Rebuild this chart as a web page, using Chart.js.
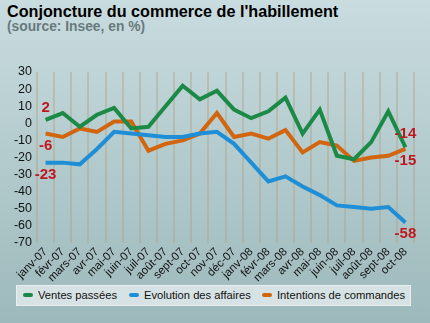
<!DOCTYPE html>
<html>
<head>
<meta charset="utf-8">
<script src="https://cdn.jsdelivr.net/npm/chart.js@4/dist/chart.umd.min.js"></script>
<style>
    html, body { margin: 0; padding: 0; }
    body {
        width: 430px; height: 323px; position: relative; overflow: hidden;
        background: linear-gradient(#c9dcdf, #9db9bb);
        font-family: Arial, "Liberation Sans", sans-serif;
    }
    #title { position: absolute; left: 7px; top: 2px; font-size: 16.2px; font-weight: bold; color: #000; }
    #sub { position: absolute; left: 7px; top: 19px; font-size: 13.8px; font-weight: bold; color: #68797c; }
    #wrap { position: absolute; left: 0; top: 0; width: 430px; height: 283px; }
    #legend {
        position: absolute; left: 16px; top: 285px; width: 395px; height: 21px;
        background: #d6e2e3; border: 1px solid #e8efef; box-sizing: border-box;
        font-size: 11.2px; color: #111;
    }
    .item { position: absolute; top: 3px; white-space: nowrap; }
    .sw { display: inline-block; width: 10px; height: 4px; border-radius: 2px; margin-right: 5px; vertical-align: middle; position: relative; top: -1px; }
</style>
</head>
<body>
<div id="title">Conjoncture du commerce de l'habillement</div>
<div id="sub">(source: Insee, en %)</div>
<div id="wrap"><canvas id="chart" width="430" height="283"></canvas></div>
<div id="legend"></div>
<script>
var months = ['janv-07', 'févr-07', 'mars-07', 'avr-07', 'mai-07', 'juin-07', 'juil-07', 'août-07', 'sept-07', 'oct-07', 'nov-07', 'déc-07',
    'janv-08', 'févr-08', 'mars-08', 'avr-08', 'mai-08', 'juin-08', 'juil-08', 'août-08', 'sept-08', 'oct-08'];
var ventes = [2, 6, -2, 5, 9, -3, -2, 10, 22, 14, 19, 8, 3, 7, 15, -6, 8, -19, -21, -11, 7, -14];
var affaires = [-23, -23, -24, -15, -5, -6, -7, -8, -8, -6, -5, -12, -23, -34, -31, -37, -42, -48, -49, -50, -49, -58];
var commandes = [-6, -8, -3, -5, 1, 1, -16, -12, -10, -6, 6, -8, -6, -9, -4, -17, -11, -13, -22, -20, -19, -15];
var seriesNames = ['Ventes passées', 'Evolution des affaires', 'Intentions de commandes'];
var seriesColors = ['#1b8a47', '#1e8fd6', '#d2660f'];
var yTicks = [30, 20, 10, 0, -10, -20, -30, -40, -50, -60, -70];

(function () {
    var legendStarts = [22, 128, 261];
    var legend = document.getElementById('legend');
    seriesNames.forEach(function (name, i) {
        var el = document.createElement('span');
        el.className = 'item';
        el.style.left = (legendStarts[i] - 16) + 'px';
        el.innerHTML = '<span class="sw" style="background:' + seriesColors[i] + '"></span>' + name;
        legend.appendChild(el);
    });

    // first/last values written in red beside the lines
    var endLabels = {
        id: 'endLabels',
        afterDatasetsDraw: function (chart) {
            var ctx = chart.ctx;
            var xs = chart.scales.x, ys = chart.scales.y;
            var last = months.length - 1;
            var marks = [
                [ventes, 0, -12], [commandes, 0, 12], [affaires, 0, 12],
                [ventes, last, -13], [commandes, last, 12], [affaires, last, 11]
            ];
            ctx.save();
            ctx.fillStyle = '#c0171f';
            ctx.font = 'bold 15px Arial, "Liberation Sans", sans-serif';
            ctx.textAlign = 'center';
            ctx.textBaseline = 'middle';
            marks.forEach(function (m) {
                var v = m[0][m[1]];
                ctx.fillText(String(v), xs.getPixelForValue(m[1]), ys.getPixelForValue(v) + m[2]);
            });
            ctx.restore();
        }
    };

    function ds(label, data, color) {
        return {
            label: label, data: data, borderColor: color, backgroundColor: color,
            borderWidth: 4, pointRadius: 0, tension: 0, fill: false
        };
    }

    new Chart(document.getElementById('chart'), {
        type: 'line',
        data: {
            labels: months,
            datasets: [
                ds(seriesNames[0], ventes, seriesColors[0]),
                ds(seriesNames[1], affaires, seriesColors[1]),
                ds(seriesNames[2], commandes, seriesColors[2])
            ]
        },
        plugins: [endLabels],
        options: {
            responsive: false,
            animation: false,
            layout: { padding: { left: 0, right: 16, top: 72, bottom: 0 } },
            plugins: { legend: { display: false }, tooltip: { enabled: false } },
            scales: {
                x: {
                    offset: true,
                    grid: { offset: true, color: 'rgba(175,165,140,0.45)', lineWidth: 2, drawTicks: false },
                    border: { display: false },
                    ticks: { minRotation: 45, maxRotation: 45, autoSkip: false, padding: 2, color: '#111',
                        font: { family: 'Arial, "Liberation Sans", sans-serif', size: 11.5 } },
                    afterFit: function (s) { s.height = 40; }
                },
                y: {
                    min: -70, max: 30,
                    afterBuildTicks: function (s) { s.ticks = yTicks.map(function (v) { return { value: v }; }); },
                    grid: { display: false, drawTicks: false },
                    border: { display: false },
                    ticks: { autoSkip: false, padding: 5, color: '#111', font: { family: 'Arial, "Liberation Sans", sans-serif', size: 12.5 } },
                    afterFit: function (s) { s.width = 37; }
                }
            }
        }
    });
})();
</script>
</body>
</html>
